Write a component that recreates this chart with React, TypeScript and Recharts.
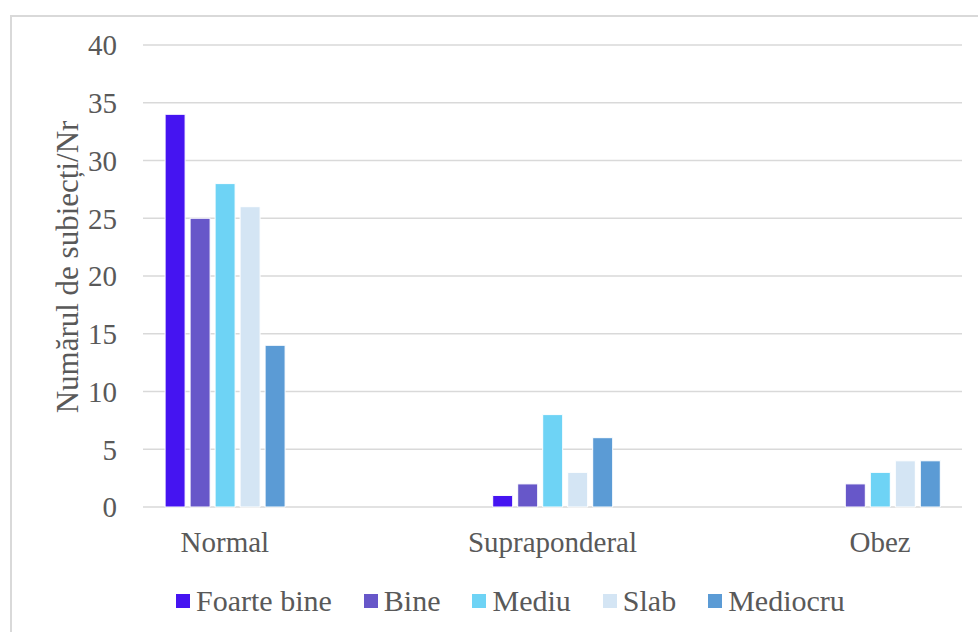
import { BarChart, Bar, XAxis, YAxis, CartesianGrid, Legend, Label } from 'recharts';

const categories = ['Normal', 'Supraponderal', 'Obez'];
const seriesNames = ['Foarte bine', 'Bine', 'Mediu', 'Slab', 'Mediocru'];
const foarteBine = [34, 1, 0];
const bine = [25, 2, 2];
const mediu = [28, 8, 3];
const slab = [26, 3, 4];
const mediocru = [14, 6, 4];
const yTicks = [0, 5, 10, 15, 20, 25, 30, 35, 40];
const yTitle = 'Numărul de subiecți/Nr';

const colors = ['#4514F1', '#6757C9', '#6ED3F5', '#D4E5F4', '#5B9BD5'];
const seriesValues = [foarteBine, bine, mediu, slab, mediocru];

const FONT = 'Liberation Serif, DejaVu Serif, Times New Roman, serif';
const TEXT = '#595959';

// categories sit at 1, 5, 9 on a 0..10 axis, like in the source picture
const data = categories.map((name, i) => {
  const row: Record<string, number | string> = { name, x: 1 + 4 * i };
  seriesNames.forEach((s, k) => {
    row[s] = seriesValues[k][i];
  });
  return row;
});

function LegendContent({ payload }: any) {
  const items = [...(payload || [])].sort(
    (a: any, b: any) => seriesNames.indexOf(a.value) - seriesNames.indexOf(b.value)
  );
  return (
    <div style={{ display: 'flex', alignItems: 'center', height: 40, fontFamily: FONT, fontSize: 30, color: TEXT }}>
      {items.map((p: any) => (
        <div key={p.value} style={{ display: 'flex', alignItems: 'center', marginRight: 32 }}>
          <span style={{ width: 14, height: 14, background: p.color, marginRight: 6, display: 'inline-block' }} />
          <span style={{ whiteSpace: 'nowrap' }}>{p.value}</span>
        </div>
      ))}
    </div>
  );
}

export default function App() {
  return (
    <div style={{ position: 'fixed', left: 0, top: 0, width: 978, height: 632, overflow: 'hidden', background: '#fff' }}>
      <div
        style={{
          position: 'absolute',
          left: 10,
          top: 15,
          width: 1100,
          height: 800,
          borderLeft: '2px solid #D9D9D9',
          borderTop: '2px solid #D9D9D9',
        }}
      />
      <div style={{ position: 'absolute', left: 0, top: 0 }}>
        <BarChart
          width={978}
          height={632}
          data={data}
          margin={{ top: 45, right: 16, bottom: 11, left: 0 }}
          barGap={5}
          barSize={20}
        >
          <CartesianGrid vertical={false} stroke="#D9D9D9" strokeWidth={1.5} />
          <XAxis
            dataKey="x"
            type="number"
            domain={[0, 10]}
            ticks={[1, 5, 9]}
            tickFormatter={(v: number) => categories[(v - 1) / 4]}
            axisLine={false}
            tickLine={false}
            tickMargin={18}
            height={74}
            tick={{ fill: TEXT, fontSize: 29, fontFamily: FONT }}
          />
          <YAxis
            domain={[0, 40]}
            ticks={yTicks}
            axisLine={false}
            tickLine={false}
            tickMargin={20}
            width={143}
            tick={{ fill: TEXT, fontSize: 29, fontFamily: FONT }}
          >
            <Label
              content={() => (
                <text
                  transform="translate(67 267) rotate(-90)"
                  textAnchor="middle"
                  dominantBaseline="central"
                  fill={TEXT}
                  fontSize={31}
                  fontFamily={FONT}
                >
                  {yTitle}
                </text>
              )}
            />
          </YAxis>
          <Legend
            verticalAlign="bottom"
            content={<LegendContent />}
            wrapperStyle={{ left: 176, width: 780 }}
          />
          {seriesNames.map((s, k) => (
            <Bar key={s} dataKey={s} fill={colors[k]} stroke="#ffffff" strokeWidth={1} isAnimationActive={false} />
          ))}
        </BarChart>
      </div>
    </div>
  );
}
